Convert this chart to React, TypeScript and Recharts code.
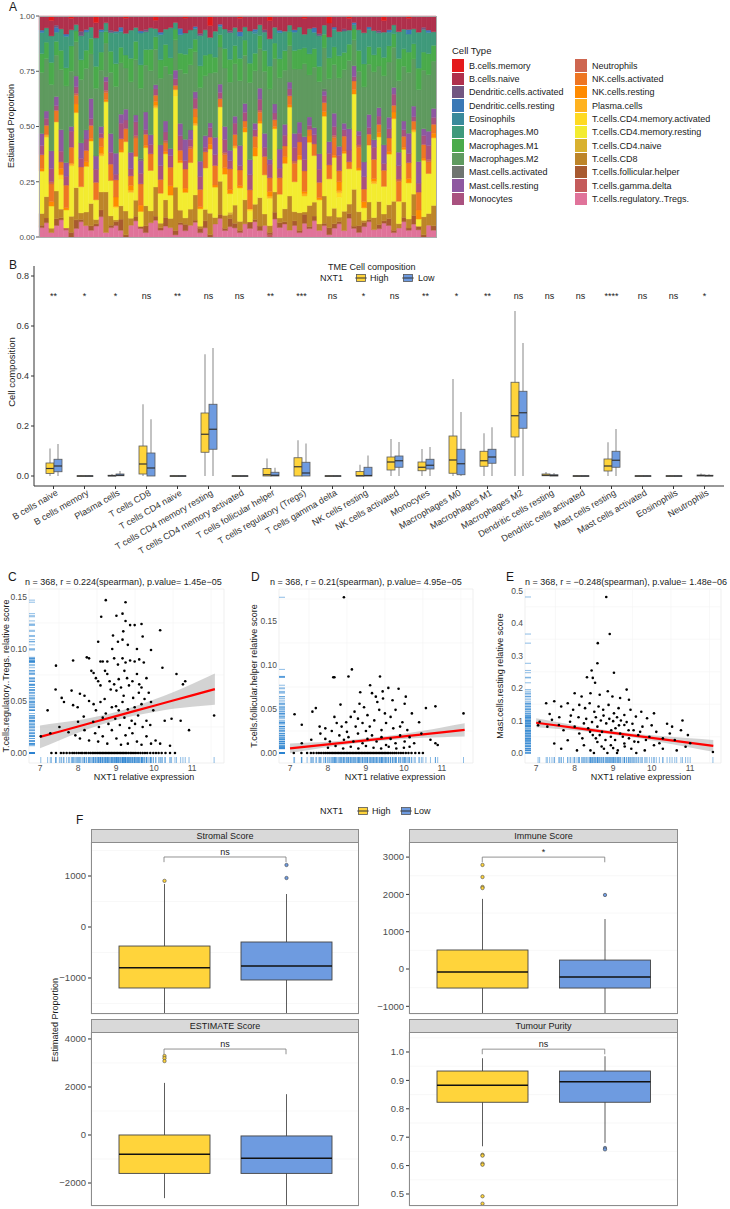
import React from 'react';
import { BarChart, Bar, XAxis, YAxis, ComposedChart, Scatter, Line, Area, CartesianGrid, ReferenceLine } from 'recharts';

const FONT = '"Liberation Sans", Arial, Helvetica, sans-serif';
const HIGH = '#FFD43B';
const LOW = '#6E9BE0';
const MINUS = '\u2212';

// ---------------- Panel A data (per-sample composition, percent) ----------------
const cellTypes = ['B.cells.memory', 'B.cells.naive', 'Dendritic.cells.activated', 'Dendritic.cells.resting', 'Eosinophils', 'Macrophages.M0', 'Macrophages.M1', 'Macrophages.M2', 'Mast.cells.activated', 'Mast.cells.resting', 'Monocytes', 'Neutrophils', 'NK.cells.activated', 'NK.cells.resting', 'Plasma.cells', 'T.cells.CD4.memory.activated', 'T.cells.CD4.memory.resting', 'T.cells.CD4.naive', 'T.cells.CD8', 'T.cells.follicular.helper', 'T.cells.gamma.delta', 'T.cells.regulatory..Tregs.'];
const cellColors = ['#E41A1C', '#B0304C', '#725681', '#3B79B6', '#3A8A9B', '#3F9A7B', '#4AAB4B', '#5F9A5F', '#6F7470', '#8E58A1', '#A9517F', '#CE6650', '#EE7623', '#FF8B00', '#FFB21F', '#FFDA22', '#F3EC30', '#D9B12F', '#BD8529', '#A85A30', '#C45B5B', '#E0739A'];

const bMemory = [0,0,2,0,0,0,1,0,0,0, 0,3,0,0,0,0,0,1,0,0, 0,0,0,2,0,0,0,0,0,1, 0,0,0,0,4,0,0,0,0,0, 1,0,0,0,0,0,2,0,0,0, 0,0,0,1,0,0,0,0,3,0, 0,0,1,0,0,0,0,0,0,2, 0,0,0,0,1,0,0,0,0,0];
const bNaive = [6,5,7,4,6,8,5,4,7,6, 5,7,6,3,6,8,5,7,6,5, 7,6,5,4,7,6,5,3,6,7, 6,5,8,6,5,7,4,6,7,5, 6,5,7,6,4,6,8,5,6,7, 4,6,5,7,6,5,8,4,6,5, 7,6,5,3,6,8,5,6,7,5, 6,4,7,6,5,6,9,5,6,7];
const dcAct = [0,0,0,1,0,0,0,0,2,0, 0,0,0,0,1,0,0,0,0,0, 0,1,0,0,0,0,0,0,0,0, 0,0,1,0,0,0,0,0,1,0, 0,0,0,0,0,1,0,0,0,0, 0,0,0,0,0,0,1,0,0,0, 0,1,0,0,0,0,0,0,1,0, 0,0,0,0,0,0,0,1,0,0];
const dcRest = [1,0,0,2,0,1,0,0,0,1, 0,0,1,0,0,0,2,0,0,0, 1,0,0,0,1,0,0,0,3,0, 0,1,0,0,0,0,1,0,0,0, 2,0,0,1,0,0,0,0,1,0, 0,1,0,0,0,2,0,0,0,1, 0,0,0,1,0,0,1,0,0,0, 1,0,0,0,2,0,0,0,1,0];
const eosinophils = [0,0,0,0,0,0,0,0,0,0, 0,0,0,0,0,1,0,0,0,0, 0,0,0,0,0,0,0,0,0,0, 0,0,0,0,0,0,0,0,0,0, 0,0,0,1,0,0,0,0,0,0, 0,0,0,0,0,0,0,0,0,0, 0,0,0,0,0,0,0,0,0,0, 0,0,0,0,0,0,0,0,0,0];
const macM0 = [9,6,12,4,10,14,7,3,11,8, 5,13,9,4,8,16,7,10,12,6, 15,8,9,4,11,7,13,3,9,10, 8,5,14,11,7,12,4,9,13,8, 10,6,15,9,5,8,12,7,11,9, 3,8,10,6,12,7,14,4,9,8, 11,10,6,2,9,15,8,10,7,11, 6,4,12,9,8,7,20,10,9,6];
const macM1 = [8,7,10,6,9,8,11,5,9,8, 7,10,8,5,9,12,7,6,10,8, 11,7,9,6,8,10,7,5,8,9, 7,6,10,9,8,7,6,9,11,8, 10,7,9,8,6,9,10,7,8,9, 6,8,9,7,10,8,7,6,9,8, 10,8,7,5,9,11,8,7,9,8, 7,6,10,8,9,7,12,8,9,7];
const macM2 = [26,22,30,18,28,34,24,16,29,27, 20,31,25,15,26,35,23,19,30,24, 33,21,27,17,29,25,32,14,26,31, 28,19,34,26,21,30,18,27,33,23, 29,22,36,24,18,27,31,20,30,25, 16,28,24,32,20,26,33,18,27,22, 31,25,29,12,26,36,23,28,20,30, 24,18,32,25,27,22,40,26,24,21];
const mastAct = [0,0,0,0,0,0,0,0,0,0, 0,0,0,0,0,0,0,0,0,0, 1,0,0,0,0,0,0,0,0,0, 0,0,0,0,0,0,0,0,0,0, 0,0,0,0,0,0,0,0,0,0, 0,0,0,0,0,0,0,1,0,0, 0,0,0,0,0,0,0,0,0,0, 0,0,0,0,0,0,0,0,0,0];
const mastRest = [5,3,8,4,10,6,2,5,7,4, 9,6,3,2,8,11,4,5,7,3, 6,8,4,2,9,5,3,4,6,10, 4,3,7,5,2,8,4,6,5,3, 9,4,7,3,5,6,2,4,8,5, 3,6,5,10,4,3,7,2,5,6, 4,3,9,5,2,7,6,3,4,8, 5,3,6,4,9,5,12,3,6,4];
const monocytes = [4,3,6,2,5,4,7,3,4,5, 3,6,2,4,5,3,7,4,3,6, 5,2,4,3,6,4,5,3,7,4, 3,5,6,2,4,5,3,6,4,5, 2,4,7,3,5,4,6,3,4,5, 3,6,4,5,2,4,6,3,5,4, 7,3,5,2,4,6,3,5,4,3, 4,5,6,3,4,2,5,4,6,3];
const neutrophils = [0,0,1,0,0,0,0,1,0,0, 0,0,0,1,0,0,0,0,0,1, 0,0,0,0,0,1,0,0,0,0, 1,0,0,0,0,0,0,1,0,0, 0,0,0,0,1,0,0,0,0,0, 0,1,0,0,0,0,0,0,0,1, 0,0,0,0,1,0,0,0,0,0, 0,0,1,0,0,0,0,0,1,0];
const nkAct = [6,4,8,5,3,10,7,4,9,5, 6,8,4,3,7,9,5,6,4,8, 10,5,7,3,6,4,8,2,5,9, 6,4,8,7,3,9,4,6,10,5, 7,3,9,5,4,8,6,3,7,5, 4,8,6,9,3,5,7,4,6,8, 5,7,3,4,9,6,5,8,4,7, 6,3,9,5,7,4,10,6,5,4];
const nkRest = [1,0,2,0,3,1,0,4,0,2, 1,0,3,1,0,5,1,0,2,0, 3,1,0,2,0,1,4,0,1,2, 0,3,1,0,2,1,0,3,2,0, 1,2,0,4,1,0,2,1,0,3, 1,0,2,1,3,0,1,2,0,1, 4,1,0,2,1,3,0,1,2,0, 1,3,0,1,2,0,5,1,0,2];
const plasma = [0,1,0,0,0,0,1,0,0,0, 0,0,1,0,0,0,0,0,1,0, 0,0,0,1,0,0,0,0,0,0, 0,1,0,0,0,0,0,0,0,1, 0,0,0,0,0,0,1,0,0,0, 0,0,0,1,0,0,0,0,0,0, 1,0,0,0,0,0,0,1,0,0, 0,0,0,0,0,1,0,0,0,0];
const cd4MemAct = [0,0,0,0,2,0,0,0,0,0, 0,0,0,0,0,1,0,0,0,0, 0,0,0,0,0,0,0,3,0,0, 0,0,0,0,0,0,0,0,0,0, 0,0,1,0,0,0,0,0,0,0, 0,0,0,0,0,0,0,0,0,0, 2,0,0,0,0,0,0,0,0,0, 0,0,0,0,0,0,0,0,0,0];
const cd4MemRest = [18,25,10,30,14,8,22,35,12,20, 28,9,16,40,15,6,24,32,11,19, 7,26,17,38,13,21,10,42,23,12, 20,33,8,18,27,14,36,19,9,25, 15,31,5,22,34,17,12,28,10,21, 39,13,24,7,30,20,11,35,16,23, 9,27,15,44,18,6,26,14,31,12, 22,37,10,24,16,29,4,25,17,30];
const cd4Naive = [0,0,0,0,0,0,0,0,0,0, 0,0,0,0,0,0,0,0,0,0, 0,0,0,0,0,0,0,0,0,0, 0,0,0,0,0,0,0,0,1,0, 0,0,0,0,0,0,0,0,0,0, 0,0,0,0,0,0,0,0,0,0, 0,0,0,0,0,0,0,0,0,0, 0,0,0,0,0,0,0,0,0,0];
const cd8 = [5,9,2,12,4,0,7,15,3,6, 10,2,8,18,4,1,6,11,3,7, 0,9,5,14,2,8,4,20,6,3, 7,12,1,5,9,3,16,6,2,8, 4,11,0,7,13,5,3,9,2,6, 15,4,8,1,10,6,3,12,5,7, 2,9,4,17,6,1,8,5,11,3, 6,13,2,7,4,10,0,8,5,9];
const tfh = [1,2,0,3,1,0,2,4,1,0, 2,1,3,0,1,2,5,1,0,2, 1,3,0,2,1,4,0,2,1,3, 0,1,2,3,1,0,2,1,4,2, 1,0,3,1,2,0,1,3,2,1, 0,2,1,4,1,2,0,1,3,2, 1,0,2,1,3,2,1,0,2,1, 3,1,0,2,1,4,2,1,0,2];
const tgd = [0,0,0,0,0,1,0,0,0,0, 0,0,0,0,0,0,0,0,0,0, 0,0,0,0,0,0,0,0,0,0, 0,0,0,0,0,0,0,0,0,0, 0,0,0,0,0,0,1,0,0,0, 0,0,0,0,0,0,0,0,0,0, 0,0,0,0,0,0,0,0,0,0, 0,0,0,0,0,0,0,0,0,0];
const tregs = [4,6,2,5,8,3,0,4,7,5, 3,5,9,2,4,6,3,0,5,7, 4,2,6,8,3,5,4,1,6,3, 5,7,2,4,0,6,9,3,5,4, 2,6,4,7,3,5,0,8,4,6, 3,5,2,6,4,7,3,5,1,4, 6,3,8,4,2,5,7,3,4,6, 5,2,4,7,3,6,4,0,5,3];

const cellSeries = [bMemory, bNaive, dcAct, dcRest, eosinophils, macM0, macM1, macM2, mastAct, mastRest, monocytes, neutrophils, nkAct, nkRest, plasma, cd4MemAct, cd4MemRest, cd4Naive, cd8, tfh, tgd, tregs];
const compTable = tregs.map((_, i) => {
  const total = cellSeries.reduce((s, arr) => s + (arr[i] ?? 0), 0);
  const row: any = { id: i };
  cellSeries.forEach((arr, k) => { row['c' + k] = (arr[i] ?? 0) / total; });
  return row;
});

// ---------------- Panel B data ----------------
const bCats = ['B cells naive', 'B cells memory', 'Plasma cells', 'T cells CD8', 'T cells CD4 naive', 'T cells CD4 memory resting', 'T cells CD4 memory activated', 'T cells follicular helper', 'T cells regulatory (Tregs)', 'T cells gamma delta', 'NK cells resting', 'NK cells activated', 'Monocytes', 'Macrophages M0', 'Macrophages M1', 'Macrophages M2', 'Dendritic cells resting', 'Dendritic cells activated', 'Mast cells resting', 'Mast cells activated', 'Eosinophils', 'Neutrophils'];
const bSig = ['**', '*', '*', 'ns', '**', 'ns', 'ns', '**', '***', 'ns', '*', 'ns', '**', '*', '**', 'ns', 'ns', 'ns', '****', 'ns', 'ns', '*'];
const hLo = [0,0,0,0,0,0,0,0,0,0,0,0,0,0,0,0,0,0,0,0,0,0];
const hQ1 = [0.01,0,0,0.008,0,0.095,0,0,0,0,0,0.024,0.021,0.011,0.039,0.156,0.001,0,0.02,0,0,0];
const hMed = [0.03,0,0.001,0.048,0,0.167,0,0.005,0.037,0,0.001,0.056,0.035,0.064,0.061,0.241,0.003,0,0.04,0,0,0.002];
const hQ3 = [0.052,0.001,0.003,0.12,0.001,0.252,0.001,0.03,0.073,0.001,0.018,0.076,0.056,0.16,0.099,0.375,0.008,0.001,0.068,0.001,0.001,0.004];
const hHi = [0.11,0.003,0.008,0.287,0.002,0.487,0.002,0.07,0.143,0.002,0.045,0.148,0.108,0.388,0.171,0.66,0.016,0.002,0.135,0.002,0.002,0.01];
const lLo = [0,0,0,0,0,0,0,0,0,0,0,0,0,0,0,0,0,0,0,0,0,0];
const lQ1 = [0.017,0,0.001,0,0,0.107,0,0,0,0,0,0.035,0.028,0.005,0.051,0.191,0,0,0.035,0,0,0];
const lMed = [0.04,0,0.003,0.032,0,0.187,0,0.003,0.012,0,0.002,0.061,0.043,0.049,0.076,0.253,0.002,0,0.063,0,0,0.001];
const lQ3 = [0.067,0.001,0.008,0.092,0.001,0.287,0.001,0.015,0.055,0.001,0.035,0.08,0.067,0.107,0.107,0.339,0.005,0.001,0.099,0.001,0.001,0.003];
const lHi = [0.128,0.003,0.02,0.227,0.002,0.512,0.002,0.033,0.13,0.002,0.082,0.136,0.116,0.256,0.195,0.532,0.012,0.002,0.188,0.002,0.002,0.007];
const sigLevel = 0.72;
const bTable = bCats.map((cat, i) => ({
  cat, sig: bSig[i], sigY: sigLevel,
  hLo: hLo[i], hQ1: hQ1[i], hMed: hMed[i], hQ3: hQ3[i], hHi: hHi[i],
  lLo: lLo[i], lQ1: lQ1[i], lMed: lMed[i], lQ3: lQ3[i], lHi: lHi[i],
}));

// ---------------- Panels C, D, E data ----------------
const cPoints = [[7.02,0.016],[7.2,0.041],[7.27,0.019],[7.41,0.061],[7.42,0.084],[7.51,0.025],[7.57,0.053],[7.63,0.049],[7.75,0.02],[7.83,0.06],[7.87,0.089],[7.87,0.046],[7.93,0.017],[7.99,0.044],[8.0,0.03],[8.05,0.057],[8.05,0.014],[8.15,0.035],[8.17,0.055],[8.17,0.022],[8.23,0.092],[8.29,0.091],[8.29,0.05],[8.29,0.012],[8.35,0.079],[8.4,0.03],[8.41,0.077],[8.41,0.047],[8.45,0.019],[8.47,0.072],[8.47,0.041],[8.53,0.107],[8.53,0.069],[8.53,0.011],[8.55,0.025],[8.59,0.088],[8.59,0.065],[8.59,0.049],[8.61,0.131],[8.65,0.088],[8.65,0.034],[8.65,0.016],[8.7,0.052],[8.71,0.079],[8.73,0.147],[8.73,0.038],[8.77,0.088],[8.77,0.076],[8.77,0.009],[8.8,0.028],[8.83,0.069],[8.86,0.061],[8.89,0.044],[8.89,0.022],[8.9,0.1],[8.92,0.113],[8.95,0.091],[8.95,0.066],[8.98,0.033],[9.0,0.045],[9.01,0.132],[9.01,0.06],[9.01,0.014],[9.05,0.107],[9.05,0.085],[9.07,0.071],[9.07,0.041],[9.1,0.027],[9.13,0.063],[9.13,0.008],[9.17,0.134],[9.17,0.109],[9.17,0.091],[9.17,0.049],[9.19,0.117],[9.2,0.055],[9.22,0.079],[9.22,0.034],[9.25,0.145],[9.25,0.127],[9.25,0.087],[9.25,0.017],[9.29,0.072],[9.31,0.104],[9.31,0.042],[9.31,0.009],[9.34,0.065],[9.35,0.024],[9.37,0.123],[9.37,0.089],[9.41,0.031],[9.43,0.069],[9.43,0.019],[9.45,0.053],[9.49,0.123],[9.49,0.088],[9.49,0.044],[9.5,0.028],[9.55,0.076],[9.55,0.1],[9.55,0.011],[9.58,0.036],[9.6,0.058],[9.61,0.09],[9.61,0.066],[9.67,0.124],[9.67,0.063],[9.67,0.047],[9.67,0.008],[9.7,0.112],[9.7,0.025],[9.73,0.087],[9.75,0.052],[9.8,0.072],[9.8,0.031],[9.8,0.016],[9.86,0.058],[9.9,0.027],[9.92,0.099],[9.92,0.049],[9.92,0.009],[9.98,0.041],[10.04,0.012],[10.16,0.118],[10.16,0.009],[10.22,0.082],[10.28,0.031],[10.42,0.007],[10.46,0.033],[10.59,0.076],[10.7,0.031],[10.76,0.066],[10.82,0.069],[10.92,0.022],[11.58,0.036]];
const cZeroX = [7.3,7.42,7.55,7.62,7.7,7.78,7.85,7.9,7.96,8.02,8.08,8.12,8.18,8.22,8.28,8.33,8.38,8.42,8.47,8.52,8.56,8.6,8.64,8.68,8.72,8.76,8.8,8.84,8.88,8.92,8.96,9.0,9.04,9.08,9.12,9.16,9.2,9.24,9.28,9.33,9.38,9.42,9.47,9.52,9.58,9.64,9.7,9.76,9.82,9.9,9.98,10.05,10.12,10.2,10.3,10.42,10.55];

const dPoints = [[7.12,0.044],[7.31,0.032],[7.31,0.011],[7.56,0.015],[7.59,0.047],[7.68,0.051],[7.78,0.03],[7.8,0.022],[7.93,0.028],[7.93,0.016],[8.0,0.006],[8.05,0.013],[8.1,0.025],[8.14,0.086],[8.17,0.086],[8.17,0.041],[8.2,0.008],[8.23,0.034],[8.3,0.02],[8.33,0.055],[8.36,0.03],[8.4,0.005],[8.42,0.177],[8.42,0.015],[8.48,0.035],[8.5,0.024],[8.54,0.087],[8.54,0.018],[8.6,0.041],[8.6,0.007],[8.63,0.095],[8.67,0.013],[8.7,0.047],[8.73,0.03],[8.79,0.039],[8.79,0.022],[8.8,0.005],[8.83,0.056],[8.85,0.069],[8.91,0.034],[8.91,0.011],[8.95,0.052],[9.0,0.025],[9.0,0.008],[9.04,0.043],[9.04,0.016],[9.1,0.03],[9.11,0.077],[9.16,0.068],[9.16,0.02],[9.2,0.006],[9.22,0.037],[9.26,0.064],[9.28,0.013],[9.3,0.058],[9.35,0.049],[9.37,0.087],[9.4,0.005],[9.41,0.026],[9.41,0.018],[9.44,0.07],[9.45,0.062],[9.5,0.045],[9.53,0.034],[9.53,0.009],[9.59,0.074],[9.6,0.007],[9.65,0.041],[9.65,0.016],[9.7,0.06],[9.72,0.028],[9.78,0.049],[9.78,0.011],[9.8,0.005],[9.86,0.073],[9.9,0.03],[9.9,0.02],[9.96,0.035],[10.0,0.006],[10.02,0.056],[10.02,0.013],[10.05,0.064],[10.09,0.026],[10.15,0.018],[10.15,0.007],[10.21,0.045],[10.27,0.011],[10.4,0.035],[10.46,0.022],[10.58,0.051],[10.7,0.015],[10.83,0.053],[10.83,0.011],[10.89,0.009],[11.57,0.045]];
const dZeroX = [7.1,7.3,7.45,7.55,7.62,7.7,7.76,7.82,7.88,7.93,7.98,8.03,8.08,8.12,8.16,8.2,8.24,8.28,8.32,8.36,8.4,8.44,8.48,8.52,8.56,8.6,8.64,8.68,8.72,8.76,8.8,8.84,8.88,8.92,8.96,9.0,9.04,9.08,9.12,9.16,9.2,9.24,9.28,9.32,9.36,9.4,9.44,9.48,9.52,9.56,9.6,9.65,9.7,9.75,9.8,9.86,9.92,9.98,10.05,10.12,10.2,10.3,10.4,10.5];

const ePoints = [[7.05,0.085],[7.09,0.096],[7.26,0.153],[7.29,0.081],[7.35,0.12],[7.41,0.102],[7.47,0.159],[7.47,0.029],[7.59,0.086],[7.6,0.11],[7.65,0.143],[7.65,0.013],[7.71,0.07],[7.82,0.153],[7.82,0.039],[7.88,0.096],[7.9,0.115],[7.96,0.133],[8.0,0.184],[8.0,0.081],[8.06,0.008],[8.1,0.11],[8.12,0.148],[8.12,0.06],[8.18,0.174],[8.2,0.045],[8.24,0.091],[8.24,0.024],[8.27,0.138],[8.3,0.105],[8.32,0.233],[8.35,0.076],[8.39,0.153],[8.4,0.065],[8.41,0.184],[8.41,0.008],[8.44,0.254],[8.45,0.095],[8.47,0.231],[8.47,0.055],[8.5,0.0],[8.51,0.127],[8.53,0.216],[8.55,0.11],[8.55,0.045],[8.59,0.276],[8.59,0.081],[8.59,0.034],[8.6,0.338],[8.62,0.143],[8.65,0.179],[8.65,0.055],[8.68,0.1],[8.7,0.02],[8.71,0.065],[8.74,0.133],[8.75,0.115],[8.76,0.013],[8.8,0.04],[8.82,0.48],[8.82,0.091],[8.85,0.0],[8.86,0.19],[8.88,0.148],[8.9,0.105],[8.91,0.366],[8.94,0.05],[8.94,0.024],[8.95,0.07],[8.98,0.174],[9.0,0.098],[9.0,0.015],[9.02,0.247],[9.02,0.122],[9.05,0.04],[9.06,0.076],[9.1,0.11],[9.1,0.0],[9.12,0.008],[9.14,0.138],[9.15,0.085],[9.18,0.169],[9.18,0.06],[9.2,0.1],[9.25,0.05],[9.29,0.117],[9.29,0.086],[9.29,0.029],[9.3,0.02],[9.35,0.195],[9.35,0.095],[9.4,0.07],[9.41,0.164],[9.41,0.045],[9.45,0.133],[9.47,0.013],[9.5,0.09],[9.53,0.07],[9.55,0.035],[9.59,0.112],[9.6,0.0],[9.65,0.055],[9.65,0.034],[9.7,0.065],[9.73,0.127],[9.76,0.081],[9.82,0.008],[9.85,0.04],[9.88,0.107],[9.94,0.05],[10.0,0.085],[10.06,0.122],[10.06,0.024],[10.12,0.065],[10.2,0.03],[10.29,0.045],[10.29,0.013],[10.4,0.09],[10.47,0.06],[10.53,0.081],[10.6,0.04],[10.65,0.008],[10.76,0.07],[10.8,0.1],[10.88,0.019],[10.94,0.055],[11.0,0.03],[11.59,0.003]];

const fitX = [7.0, 7.5, 8.0, 8.5, 9.0, 9.5, 10.0, 10.5, 11.0, 11.6];
const cFit = [0.0155,0.0205,0.0255,0.0305,0.0355,0.0405,0.0455,0.0505,0.0554,0.0614];
const cFitLo = [0.0045,0.012,0.0195,0.026,0.0315,0.036,0.0395,0.0425,0.0444,0.0464];
const cFitHi = [0.0265,0.029,0.0315,0.035,0.0395,0.045,0.0515,0.0585,0.0664,0.0764];
const dFit = [0.0053,0.0076,0.0098,0.0121,0.0144,0.0166,0.0189,0.0212,0.0235,0.0262];
const dFitLo = [-0.0002,0.0034,0.0068,0.0097,0.0122,0.0142,0.0159,0.0172,0.018,0.0187];
const dFitHi = [0.0108,0.0118,0.0128,0.0145,0.0166,0.019,0.0219,0.0252,0.029,0.0337];
const eFit = [0.093,0.0853,0.0775,0.0698,0.062,0.0543,0.0466,0.0388,0.0311,0.0218];
const eFitLo = [0.079,0.0743,0.0695,0.0638,0.0565,0.0483,0.0386,0.0278,0.0171,0.0038];
const eFitHi = [0.107,0.0963,0.0855,0.0758,0.0675,0.0603,0.0546,0.0498,0.0451,0.0398];

// ---------------- Panel F data: [lowerWhisker, Q1, median, Q3, upperWhisker] ----------------
const stromalHigh = [-1706, -1196, -800, -373, 843];
const stromalHighOut = [905];
const stromalLow = [-1706, -1039, -765, -294, 647];
const stromalLowOut = [1216, 961];
const immuneHigh = [-1206, -510, -80, 510, 1880];
const immuneHighOut = [2790, 2466, 2200, 2170];
const immuneLow = [-1206, -510, -215, 240, 1340];
const immuneLowOut = [1985];
const estimateHigh = [-2630, -1600, -800, 0, 2170];
const estimateHighOut = [3290, 3200, 3080];
const estimateLow = [-2958, -1600, -970, -40, 1700];
const estimateLowOut: number[] = [];
const purityHigh = [0.668, 0.823, 0.883, 0.933, 0.978];
const purityHighOut = [0.638, 0.635, 0.607, 0.603, 0.492, 0.466];
const purityLow = [0.68, 0.823, 0.895, 0.933, 0.985];
const purityLowOut = [0.662, 0.657];

const mkRows = (h: number[], ho: number[], l: number[], lo: number[]) => [
  { g: 'High', lo: h[0], q1: h[1], med: h[2], q3: h[3], hi: h[4], out: ho },
  { g: 'Low', lo: l[0], q1: l[1], med: l[2], q3: l[3], hi: l[4], out: lo },
];

// ---------------- helpers ----------------
const Txt = ({ x, y, children, size = 9, color = '#1A1A1A', anchor = 'start', rotate = false }: any) => {
  const tx = anchor === 'start' ? '0' : anchor === 'middle' ? '-50%' : '-100%';
  return (
    <div style={{ position: 'absolute', left: x, top: y, transform: rotate ? 'translate(-50%,-50%) rotate(-90deg)' : `translate(${tx},-50%)`, fontSize: size, color, whiteSpace: 'nowrap', lineHeight: 1, fontFamily: FONT }}>
      {children}
    </div>
  );
};

const BoxKey = ({ fill }: any) => (
  <svg width={12} height={10} style={{ display: 'block' }}>
    <line x1={0} x2={12} y1={5} y2={5} stroke="#555" strokeWidth={0.8} />
    <rect x={1.5} y={1.5} width={9} height={7} fill={fill} stroke="#555" strokeWidth={0.8} />
    <line x1={1.5} x2={10.5} y1={5} y2={5} stroke="#333" strokeWidth={1} />
  </svg>
);

const makeBBox = (key: string, fill: string) => (p: any) => {
  const d = p.payload;
  const lo = d[key + 'Lo'], hi = d[key + 'Hi'];
  const top = Math.min(p.y, p.y + p.height);
  const h = Math.abs(p.height);
  const Y = (v: number) => top + (hi - v) * h / (hi - lo);
  const cx = p.x + p.width / 2;
  const yq3 = Y(d[key + 'Q3']);
  const yq1 = Y(d[key + 'Q1']);
  return (
    <g>
      <line x1={cx} x2={cx} y1={Y(hi)} y2={Y(lo)} stroke="#555" strokeWidth={0.7} />
      <rect x={p.x} y={yq3} width={p.width} height={Math.max(yq1 - yq3, 0.6)} fill={fill} stroke="#5A5A5A" strokeWidth={0.8} />
      <line x1={p.x} x2={p.x + p.width} y1={Y(d[key + 'Med'])} y2={Y(d[key + 'Med'])} stroke="#333" strokeWidth={1.2} />
    </g>
  );
};

const FBox = (p: any) => {
  const d = p.payload;
  const top = Math.min(p.y, p.y + p.height);
  const h = Math.abs(p.height);
  const Y = (v: number) => top + (d.hi - v) * h / (d.hi - d.lo);
  const cx = p.x + p.width / 2;
  const fill = d.g === 'High' ? HIGH : LOW;
  return (
    <g>
      <line x1={cx} x2={cx} y1={Y(d.hi)} y2={Y(d.lo)} stroke="#333" strokeWidth={0.8} />
      <rect x={p.x} y={Y(d.q3)} width={p.width} height={Y(d.q1) - Y(d.q3)} fill={fill} stroke="#444" strokeWidth={0.9} />
      <line x1={p.x} x2={p.x + p.width} y1={Y(d.med)} y2={Y(d.med)} stroke="#111" strokeWidth={1.5} />
      {d.out.map((v: number, i: number) => (
        <circle key={i} cx={cx} cy={Y(v)} r={1.7} fill={fill} stroke="#444" strokeWidth={0.6} />
      ))}
    </g>
  );
};

const RotTick = (props: any) => {
  const { x, y, payload } = props;
  return (
    <g transform={`translate(${x},${y})`}>
      <text transform="rotate(-30)" textAnchor="end" dy="0.72em" dx={2} fontSize={9} fill="#333" fontFamily={FONT}>{payload.value}</text>
    </g>
  );
};

const SigText = (p: any) => (
  <text x={p.cx} y={p.cy} textAnchor="middle" dominantBaseline="central" fontSize={9} fill="#1A1A1A" fontFamily={FONT}>{p.payload.sig}</text>
);

const Dot = (p: any) => <circle cx={p.cx} cy={p.cy} r={1.3} fill="#000" />;
const RugX = (p: any) => <line x1={p.cx} x2={p.cx} y1={p.cy} y2={p.cy - 6} stroke="#2C84D0" strokeOpacity={0.6} strokeWidth={0.9} />;
const RugY = (p: any) => <line x1={p.cx} x2={p.cx + 6} y1={p.cy} y2={p.cy} stroke="#2C84D0" strokeOpacity={0.6} strokeWidth={0.9} />;

const fmt2 = (v: number) => v.toFixed(2);
const fmt1 = (v: number) => v.toFixed(1);
const fmtInt = (v: number) => (v < 0 ? MINUS + Math.abs(v) : String(v));
const abs: any = { position: 'absolute', left: 0, top: 0 };

function ScatterPanel({ left, top, width, mRight, xDomain, yDomain, yTicks, yFmt, minorY, points, zeroX, fit, fitLo, fitHi }: any) {
  const pts = points.map((p: number[]) => ({ x: p[0], y: p[1] })).concat(zeroX.map((x: number) => ({ x, y: 0 })));
  const rugX = pts.map((p: any) => ({ x: p.x, y: yDomain[0] }));
  const rugY = pts.map((p: any) => ({ x: xDomain[0], y: p.y }));
  const fitRows = fitX.map((x, i) => ({ x, fit: fit[i], band: [fitLo[i], fitHi[i]] }));
  const minorX = [7.5, 8.5, 9.5, 10.5, 11.5];
  const margin = { top: 19, right: mRight, bottom: 8, left: 0 };
  const xProps: any = { type: 'number', dataKey: 'x', domain: xDomain, ticks: [7, 8, 9, 10, 11], allowDataOverflow: true, tickLine: false, axisLine: false, tickSize: 0, tickMargin: 2, height: 14 };
  const yProps: any = { type: 'number', domain: yDomain, ticks: yTicks, tickFormatter: yFmt, allowDataOverflow: true, tickLine: false, axisLine: false, tickSize: 0, tickMargin: 2, width: 29 };
  return (
    <div style={{ position: 'absolute', left, top, width, height: 215 }}>
      <div style={abs}>
        <ComposedChart width={width} height={215} data={fitRows} margin={margin}>
          <XAxis {...xProps} tick={false} />
          <YAxis {...yProps} tick={false} />
          {minorX.map((v) => <ReferenceLine key={'mx' + v} x={v} stroke="#F3F3F3" strokeWidth={0.6} />)}
          {minorY.map((v: number) => <ReferenceLine key={'my' + v} y={v} stroke="#F3F3F3" strokeWidth={0.6} />)}
          <CartesianGrid stroke="#EBEBEB" strokeWidth={0.8} />
        </ComposedChart>
      </div>
      <div style={abs}>
        <ComposedChart width={width} height={215} data={fitRows} margin={margin}>
          <XAxis {...xProps} tick={{ fontSize: 8.5, fill: '#4D4D4D' }} />
          <YAxis {...yProps} tick={{ fontSize: 8.5, fill: '#4D4D4D' }} />
          <Scatter data={rugX} dataKey="y" shape={RugX} isAnimationActive={false} />
          <Scatter data={rugY} dataKey="y" shape={RugY} isAnimationActive={false} />
          <Scatter data={pts} dataKey="y" shape={Dot} isAnimationActive={false} />
          <Area dataKey="band" type="monotone" fill="#9E9E9E" fillOpacity={0.45} stroke="none" isAnimationActive={false} />
          <Line dataKey="fit" type="linear" stroke="#FF0000" strokeWidth={2.2} dot={false} isAnimationActive={false} />
        </ComposedChart>
      </div>
    </div>
  );
}

function Facet({ left, top, plotW, plotH, domain, ticks, minor, fmt, rows, bracket, tip, sig, title }: any) {
  const yW = 51;
  const W = yW + plotW;
  const H = plotH + 4;
  const margin = { top: 0, right: 0, bottom: 0, left: 0 };
  const xProps: any = { dataKey: 'g', padding: { left: 12, right: 12 }, tick: false, axisLine: false, tickLine: false, height: 4 };
  const yProps: any = { width: yW, domain, ticks, tickFormatter: fmt, allowDataOverflow: true, axisLine: false, tickSize: 3, tickMargin: 2 };
  return (
    <>
      <div style={{ position: 'absolute', left, top, width: W, height: H }}>
        <div style={abs}>
          <ComposedChart width={W} height={H} data={rows} margin={margin}>
            <XAxis {...xProps} />
            <YAxis {...yProps} tick={false} tickLine={false} />
            {minor.map((v: number) => <ReferenceLine key={'m' + v} y={v} stroke="#F3F3F3" strokeWidth={0.6} />)}
            <CartesianGrid stroke="#EBEBEB" strokeWidth={0.9} />
          </ComposedChart>
        </div>
        <div style={abs}>
          <ComposedChart width={W} height={H} data={rows} margin={margin}>
            <XAxis {...xProps} />
            <YAxis {...yProps} tickLine={{ stroke: '#333' }} tick={{ fontSize: 9.5, fill: '#4D4D4D' }} />
            <Bar dataKey={(d: any) => [d.lo, d.hi]} barSize={91} shape={FBox} isAnimationActive={false} />
            <ReferenceLine segment={[{ x: 'High', y: bracket }, { x: 'Low', y: bracket }]} stroke="#777" strokeWidth={0.8} label={{ value: sig, position: 'top', fontSize: 9, fill: '#1A1A1A', offset: 2 }} />
            <ReferenceLine segment={[{ x: 'High', y: bracket }, { x: 'High', y: tip }]} stroke="#777" strokeWidth={0.8} />
            <ReferenceLine segment={[{ x: 'Low', y: bracket }, { x: 'Low', y: tip }]} stroke="#777" strokeWidth={0.8} />
          </ComposedChart>
        </div>
      </div>
      <div style={{ position: 'absolute', left: left + yW, top, width: plotW, height: plotH, border: '1px solid #8C8C8C', boxSizing: 'border-box', pointerEvents: 'none' }} />
      <div style={{ position: 'absolute', left: left + yW, top: top - 13, width: plotW, height: 14, background: '#D9D9D9', border: '1px solid #8C8C8C', boxSizing: 'border-box', display: 'flex', alignItems: 'center', justifyContent: 'center', fontSize: 9, color: '#1A1A1A', fontFamily: FONT }}>{title}</div>
    </>
  );
}

export default function App() {
  const reversed = cellTypes.map((t, k) => k).reverse();
  return (
    <div style={{ position: 'absolute', left: 0, top: 0, width: 730, height: 1209, background: '#fff', fontFamily: FONT, overflow: 'hidden' }}>
      {/* ---------- Panel A ---------- */}
      <Txt x={9} y={7} size={12}>A</Txt>
      <div style={{ position: 'absolute', left: 0, top: 0 }}>
        <BarChart width={450} height={245} data={compTable} margin={{ top: 16, right: 14, bottom: 8, left: 0 }} barCategoryGap={0} barGap={0}>
          <XAxis dataKey="id" hide />
          <YAxis width={39} domain={[0, 1]} ticks={[0, 0.25, 0.5, 0.75, 1]} tickFormatter={fmt2} axisLine={false} tickSize={3} tickMargin={1} tickLine={{ stroke: '#555' }} tick={{ fontSize: 8, fill: '#4D4D4D' }} />
          {reversed.map((k) => (
            <Bar key={k} dataKey={'c' + k} stackId="a" fill={cellColors[k]} stroke={cellColors[k]} strokeWidth={0.4} isAnimationActive={false} />
          ))}
        </BarChart>
      </div>
      <div style={{ position: 'absolute', left: 39, top: 15.5, width: 397.5, height: 222, border: '1px solid #ABABAB', boxSizing: 'border-box', pointerEvents: 'none' }} />
      <Txt x={11} y={126} size={9} rotate>Estiamted Proportion</Txt>
      <Txt x={452} y={51} size={9.5}>Cell Type</Txt>
      {cellTypes.map((t, i) => {
        const col = i < 11 ? 0 : 1;
        const r = i % 11;
        const sx = col === 0 ? 452 : 575;
        const cy = 65.5 + r * 13.35;
        return (
          <React.Fragment key={t}>
            <div style={{ position: 'absolute', left: sx, top: cy - 6.2, width: 12, height: 12.4, background: cellColors[i] }} />
            <Txt x={sx + 17} y={cy} size={9}>{t}</Txt>
          </React.Fragment>
        );
      })}

      {/* ---------- Panel B ---------- */}
      <Txt x={9} y={265} size={12}>B</Txt>
      <Txt x={12} y={372} size={9.5} rotate>Cell composition</Txt>
      <Txt x={328} y={267} size={9}>TME Cell composition</Txt>
      <Txt x={320} y={278} size={9}>NXT1</Txt>
      <div style={{ position: 'absolute', left: 355, top: 273 }}><BoxKey fill={HIGH} /></div>
      <Txt x={370} y={278} size={9}>High</Txt>
      <div style={{ position: 'absolute', left: 402, top: 273 }}><BoxKey fill={LOW} /></div>
      <Txt x={418} y={278} size={9}>Low</Txt>
      <div style={{ position: 'absolute', left: 0, top: 250 }}>
        <ComposedChart width={730} height={320} data={bTable} margin={{ top: 16, right: 6, bottom: 0, left: 0 }} barGap={0}>
          <XAxis dataKey="cat" interval={0} allowDuplicatedCategory={false} height={84} padding={{ left: 4, right: 4 }} tick={<RotTick />} tickSize={3} tickMargin={1} tickLine={{ stroke: '#333' }} axisLine={{ stroke: '#333' }} />
          <YAxis width={34} domain={[-0.04, 0.84]} ticks={[0, 0.2, 0.4, 0.6, 0.8]} tickFormatter={fmt1} allowDataOverflow tickSize={3} tickMargin={2} tickLine={{ stroke: '#333' }} axisLine={{ stroke: '#333' }} tick={{ fontSize: 9, fill: '#333' }} />
          <Bar dataKey={(d: any) => [d.hLo, d.hHi]} barSize={8} shape={makeBBox('h', HIGH)} isAnimationActive={false} />
          <Bar dataKey={(d: any) => [d.lLo, d.lHi]} barSize={8} shape={makeBBox('l', LOW)} isAnimationActive={false} />
          <Scatter data={bTable} dataKey="sigY" shape={SigText} isAnimationActive={false} />
        </ComposedChart>
      </div>

      {/* ---------- Panels C, D, E ---------- */}
      <Txt x={8} y={577} size={12}>C</Txt>
      <Txt x={25} y={582} size={9}>n = 368, r = 0.224(spearman), p.value= 1.45e{MINUS}05</Txt>
      <Txt x={6} y={676} size={9} rotate>T.cells.regulatory..Tregs. relative score</Txt>
      <Txt x={144} y={777} size={9} anchor="middle">NXT1 relative expression</Txt>
      <ScatterPanel left={0} top={570} width={240} mRight={16} xDomain={[6.71, 11.84]} yDomain={[-0.0096, 0.1577]} yTicks={[0, 0.05, 0.1, 0.15]} yFmt={fmt2} minorY={[0.025, 0.075, 0.125]} points={cPoints} zeroX={cZeroX} fit={cFit} fitLo={cFitLo} fitHi={cFitHi} />

      <Txt x={251} y={577} size={12}>D</Txt>
      <Txt x={270} y={582} size={9}>n = 368, r = 0.21(spearman), p.value= 4.95e{MINUS}05</Txt>
      <Txt x={254} y={676} size={9} rotate>T.cells.follicular.helper relative score</Txt>
      <Txt x={395} y={777} size={9} anchor="middle">NXT1 relative expression</Txt>
      <ScatterPanel left={250} top={570} width={240} mRight={17} xDomain={[6.71, 11.82]} yDomain={[-0.0114, 0.1864]} yTicks={[0, 0.05, 0.1, 0.15]} yFmt={fmt2} minorY={[0.025, 0.075, 0.125, 0.175]} points={dPoints} zeroX={dZeroX} fit={dFit} fitLo={dFitLo} fitHi={dFitHi} />

      <Txt x={506} y={577} size={12}>E</Txt>
      <Txt x={525} y={582} size={9}>n = 368, r = {MINUS}0.248(spearman), p.value= 1.48e{MINUS}06</Txt>
      <Txt x={500} y={676} size={9} rotate>Mast.cells.resting relative score</Txt>
      <Txt x={641} y={777} size={9} anchor="middle">NXT1 relative expression</Txt>
      <ScatterPanel left={496} top={570} width={234} mRight={9} xDomain={[6.71, 11.8]} yDomain={[-0.0308, 0.5046]} yTicks={[0, 0.1, 0.2, 0.3, 0.4, 0.5]} yFmt={fmt1} minorY={[0.05, 0.15, 0.25, 0.35, 0.45]} points={ePoints} zeroX={[]} fit={eFit} fitLo={eFitLo} fitHi={eFitHi} />

      {/* ---------- Panel F ---------- */}
      <Txt x={76} y={820} size={12}>F</Txt>
      <Txt x={320} y={811} size={9}>NXT1</Txt>
      <div style={{ position: 'absolute', left: 357, top: 806 }}><BoxKey fill={HIGH} /></div>
      <Txt x={372} y={811} size={9}>High</Txt>
      <div style={{ position: 'absolute', left: 400, top: 806 }}><BoxKey fill={LOW} /></div>
      <Txt x={414} y={811} size={9}>Low</Txt>
      <Txt x={55} y={1020} size={9} rotate>Estimated Proportion</Txt>

      <Facet left={40} top={842} plotW={268} plotH={172} domain={[-1706, 1667]} ticks={[-1000, 0, 1000]} minor={[-1500, -500, 500, 1500]} fmt={fmtInt} rows={mkRows(stromalHigh, stromalHighOut, stromalLow, stromalLowOut)} bracket={1373} tip={1272} sig="ns" title="Stromal Score" />
      <Facet left={358} top={842} plotW={269} plotH={172} domain={[-1206, 3405]} ticks={[-1000, 0, 1000, 2000, 3000]} minor={[-500, 500, 1500, 2500]} fmt={fmtInt} rows={mkRows(immuneHigh, immuneHighOut, immuneLow, immuneLowOut)} bracket={3000} tip={2862} sig="*" title="Immune Score" />
      <Facet left={40} top={1032} plotW={268} plotH={174} domain={[-2958, 4290]} ticks={[-2000, 0, 2000, 4000]} minor={[-1000, 1000, 3000]} fmt={fmtInt} rows={mkRows(estimateHigh, estimateHighOut, estimateLow, estimateLowOut)} bracket={3580} tip={3363} sig="ns" title="ESTIMATE Score" />
      <Facet left={358} top={1032} plotW={269} plotH={174} domain={[0.4577, 1.0704]} ticks={[0.5, 0.6, 0.7, 0.8, 0.9, 1.0]} minor={[0.55, 0.65, 0.75, 0.85, 0.95, 1.05]} fmt={fmt1} rows={mkRows(purityHigh, purityHighOut, purityLow, purityLowOut)} bracket={1.01} tip={0.992} sig="ns" title="Tumour Purity" />
    </div>
  );
}
